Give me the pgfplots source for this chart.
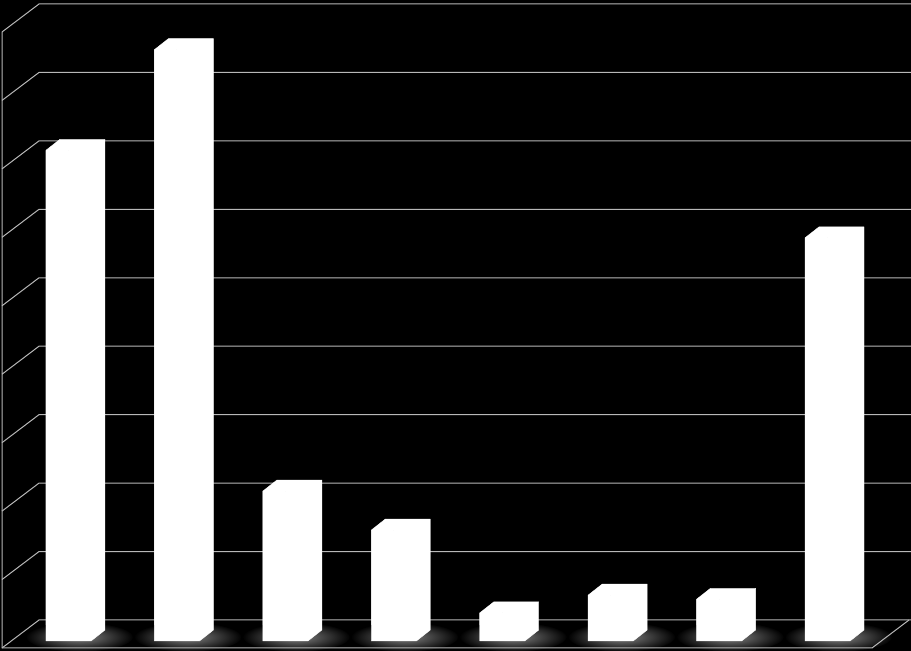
\documentclass[border=0pt]{standalone}
\usepackage{pgfplots}
\pgfplotsset{compat=1.18}
\definecolor{gridgray}{gray}{0.72}
\definecolor{shadowgray}{gray}{0.52}
\begin{document}
\begin{tikzpicture}[x=1pt,y=1pt]
\useasboundingbox (0,0) rectangle (911,651);
\fill[black] (0,0) rectangle (911,651);
% back wall gridlines with left-wall diagonals
\foreach \k in {0,...,9}{
  \pgfmathsetmacro\yy{651-(4+68.444*\k)}
  \draw[gridgray, line width=1pt] (2,\yy-28) -- (39,\yy) -- (911,\yy);
}
\begin{axis}[at={(0,0)}, anchor=south west,
  x=108.43pt, y=6.844pt,
  xmin=0.3683, xmax=8.770, ymin=-1.461, ymax=93.66,
  hide axis, clip=false]
\addplot[scatter, only marks, mark=*, mark size=0pt,
  mark options={draw=none, fill=none},
  visualization depends on={rawy \as \myv},
  scatter/@pre marker code/.code={%
    \coordinate (b) at (axis direction cs:0,-\myv);
    \shade[inner color=shadowgray, outer color=black]
      ([xshift=11pt,yshift=4pt]b) ellipse [x radius=54pt, y radius=15pt];
    \begin{scope}
  },
  scatter/@post marker code/.code={\end{scope}}]
  coordinates {(1,71.7) (2,86.4) (3,21.9) (4,16.2) (5,4.1) (6,6.7) (7,6.1) (8,58.9)};
\addplot[ybar, bar width=45pt, fill=white, draw=none]
  coordinates {(1,71.7) (2,86.4) (3,21.9) (4,16.2) (5,4.1) (6,6.7) (7,6.1) (8,58.9)};
\addplot[scatter, only marks, mark=*, mark size=0pt,
  mark options={draw=none, fill=none},
  visualization depends on={rawy \as \myv},
  scatter/@pre marker code/.code={%
    \coordinate (b) at (axis direction cs:0,-\myv);
    \fill[white] (-22.5pt,0pt) -- (-8.5pt,11pt) -- (36.5pt,11pt)
      -- ([xshift=36.5pt,yshift=11pt]b) -- ([xshift=22.5pt]b)
      -- ([xshift=-22.5pt]b) -- cycle;
    \begin{scope}
  },
  scatter/@post marker code/.code={\end{scope}}]
  coordinates {(1,71.7) (2,86.4) (3,21.9) (4,16.2) (5,4.1) (6,6.7) (7,6.1) (8,58.9)};
\end{axis}
% left wall edge and floor front edge (drawn over the floor shadows)
\draw[gridgray, line width=1pt] (2,619) -- (2,3) -- (872,3) -- (909,31);
\end{tikzpicture}
\end{document}
